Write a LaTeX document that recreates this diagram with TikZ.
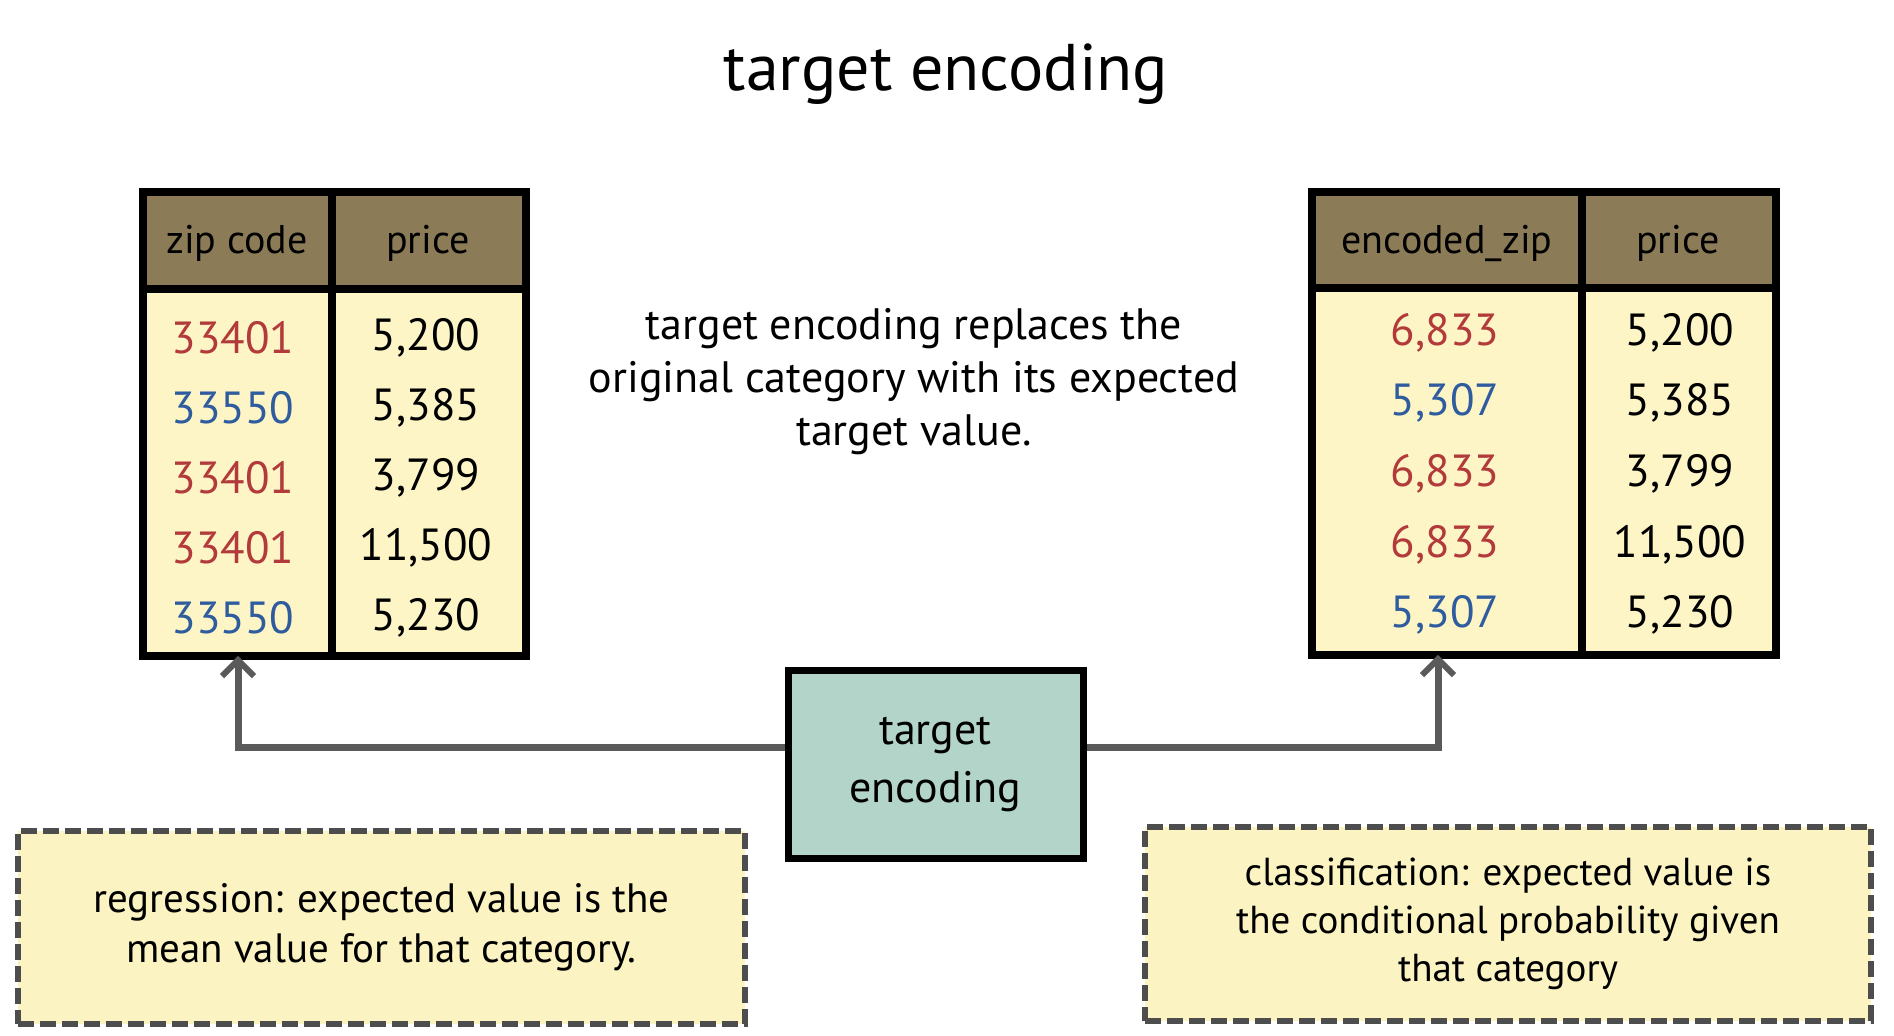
\documentclass[tikz,border=0pt]{standalone}
\usepackage{fontspec}
\setmainfont{PT Sans}
\usetikzlibrary{arrows.meta}
\definecolor{hdr}{HTML}{8B7B57}
\definecolor{cellbg}{HTML}{FDF5C6}
\definecolor{zred}{HTML}{B23A3A}
\definecolor{zblue}{HTML}{2E5C9E}
\definecolor{tealbox}{HTML}{B3D4C9}
\definecolor{notebg}{HTML}{FBF3C2}
\definecolor{arrgray}{HTML}{5A5A5A}
\definecolor{dashgray}{HTML}{4D4D4D}
\tikzset{
  tblbody/.style={fill=cellbg, draw=none, inner sep=0pt, anchor=north west},
  tblborder/.style={line width=4pt, black},
  hdrtext/.style={font=\fontsize{20}{24}\selectfont, text=black},
  celltext/.style={font=\fontsize{22.5}{26}\selectfont},
  redval/.style={celltext, text=zred},
  blueval/.style={celltext, text=zblue},
  blackval/.style={celltext, text=black},
  arr/.style={draw=arrgray, line width=3.5pt, -{Straight Barb[length=8pt,width=16pt,line width=3pt]}},
  notebox/.style={fill=notebg, draw=dashgray, line width=3pt, dash pattern=on 8pt off 3pt, align=center,
     inner sep=0pt},
}
\begin{document}
\begin{tikzpicture}[x=0.5pt,y=-0.5pt]
\useasboundingbox (0,0) rectangle (1894,1035);

% title
\node[font=\fontsize{33}{38}\selectfont] (title) at (946,74) {target encoding};

% ---------- left table ----------
\node[tblbody, minimum width=191pt, minimum height=231.5pt] (lt) at (143,192) {};
\fill[hdr] (lt.north west) rectangle (525,289);
\draw[tblborder] (143,289) -- (525,289);
\draw[tblborder] (332,192) -- (332,655);
\draw[tblborder] (lt.north west) rectangle (lt.south east);
\node[hdrtext] (lh1) at (237,243) {zip code};
\node[hdrtext] (lh2) at (428,243) {price};
\node[redval]  (l11) at (233,338) {33401};
\node[blueval] (l21) at (233,408) {33550};
\node[redval]  (l31) at (233,478) {33401};
\node[redval]  (l41) at (233,548) {33401};
\node[blueval] (l51) at (233,618) {33550};
\node[blackval] (l12) at (426,338) {5,200};
\node[blackval] (l22) at (426,408) {5,385};
\node[blackval] (l32) at (426,478) {3,799};
\node[blackval] (l42) at (426,548) {11,500};
\node[blackval] (l52) at (426,618) {5,230};

% ---------- right table ----------
\node[tblbody, minimum width=231.5pt, minimum height=231pt] (rt) at (1312,192) {};
\fill[hdr] (rt.north west) rectangle (1775,288);
\draw[tblborder] (1312,288) -- (1775,288);
\draw[tblborder] (1582,192) -- (1582,654);
\draw[tblborder] (rt.north west) rectangle (rt.south east);
\node[hdrtext] (rh1) at (1447,243) {encoded\_zip};
\node[hdrtext] (rh2) at (1678,243) {price};
\node[redval]  (r11) at (1445,333) {6,833};
\node[blueval] (r21) at (1445,403) {5,307};
\node[redval]  (r31) at (1445,474) {6,833};
\node[redval]  (r41) at (1445,545) {6,833};
\node[blueval] (r51) at (1445,615) {5,307};
\node[blackval] (r12) at (1680,333) {5,200};
\node[blackval] (r22) at (1680,403) {5,385};
\node[blackval] (r32) at (1680,474) {3,799};
\node[blackval] (r42) at (1680,545) {11,500};
\node[blackval] (r52) at (1680,615) {5,230};

% ---------- middle text ----------
\node[align=center, font=\fontsize{22}{26.5}\selectfont] (desc) at (914,382)
  {target encoding replaces the\\original category with its expected\\target value.};

% ---------- center box ----------
\node[draw=black, fill=tealbox, line width=3.5pt, minimum width=147.5pt, minimum height=94pt,
      align=center, font=\fontsize{22}{29}\selectfont, inner sep=0pt] (ce) at (935.5,764) {target\\encoding};

% ---------- arrows ----------
\draw[arr] (ce.west |- 0,747) -| (lt.south -| 238,0);
\draw[arr] (ce.east |- 0,747) -| (rt.south -| 1438,0);

% ---------- notes ----------
\node[notebox, minimum width=363.5pt, minimum height=96.5pt, font=\fontsize{20.5}{25}\selectfont] (nl) at (381.5,927.5)
  {regression: expected value is the\\mean value for that category.};
\node[notebox, minimum width=363pt, minimum height=97pt, font=\fontsize{19.5}{24}\selectfont] (nr) at (1508,924)
  {classification: expected value is\\the conditional probability given\\that category};
\end{tikzpicture}
\end{document}
